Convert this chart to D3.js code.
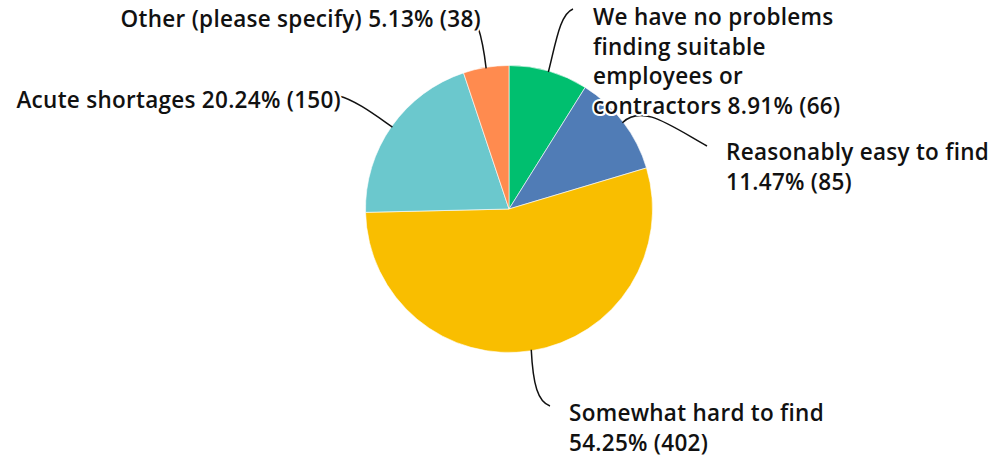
<!DOCTYPE html>
<html>
<head>
<meta charset="utf-8">
<script src="https://cdn.jsdelivr.net/npm/d3@7"></script>
<style>
  html, body { margin: 0; padding: 0; background: #ffffff; }
  svg { display: block; }
  text { font-family: "Open Sans", Lato, sans-serif; font-weight: 600; font-size: 22.5px; letter-spacing: 0.28px; fill: #111111; }
</style>
</head>
<body>
<svg id="chart" width="990" height="458"></svg>
<script>
// ---- data ----
const categories = [
  "We have no problems finding suitable employees or contractors",
  "Reasonably easy to find",
  "Somewhat hard to find",
  "Acute shortages",
  "Other (please specify)"
];
const counts = [66, 85, 402, 150, 38];
const percents = ["8.91%", "11.47%", "54.25%", "20.24%", "5.13%"];
const colors = ["#00BF6F", "#507CB6", "#F9BE00", "#6BC8CD", "#FF8B4F"];

// ---- layout ----
const W = 990, H = 458;
const cx = 509, cy = 209, R = 143.5;
const labelLayout = [
  { lines: ["We have no problems", "finding suitable", "employees or", "contractors " + percents[0] + " (" + counts[0] + ")"],
    x: 593, y: 25, lh: 29.5, anchor: "start",
    leader: [[556, 42], [560, 14], [573, 9]] },
  { lines: [categories[1], percents[1] + " (" + counts[1] + ")"],
    x: 726, y: 160, lh: 30, anchor: "start",
    leader: [[642, 104], [668, 124], [707, 146]] },
  { lines: [categories[2], percents[2] + " (" + counts[2] + ")"],
    x: 569, y: 420.5, lh: 30, anchor: "start",
    leader: [[533, 385], [538, 402], [550, 406]] },
  { lines: [categories[3] + " " + percents[3] + " (" + counts[3] + ")"],
    x: 341, y: 108, lh: 30, anchor: "end",
    leader: [[375, 115], [355, 100], [339, 96]] },
  { lines: [categories[4] + " " + percents[4] + " (" + counts[4] + ")"],
    x: 481, y: 27, lh: 30, anchor: "end",
    leader: [[484, 50], [480, 33], [478, 27]] }
];

const svg = d3.select("#chart");
const g = svg.append("g").attr("transform", `translate(${cx},${cy})`);

const pie = d3.pie().sort(null).value(d => d)(counts);
const arc = d3.arc().innerRadius(0).outerRadius(R);

g.selectAll("path.slice")
  .data(pie)
  .join("path")
  .attr("class", "slice")
  .attr("d", arc)
  .attr("fill", (d, i) => colors[i])
  .attr("stroke", "#ffffff")
  .attr("stroke-width", 0.6);

// leader lines
const leaders = svg.append("g");
pie.forEach((d, i) => {
  const mid = (d.startAngle + d.endAngle) / 2;
  const sx = cx + (R - 1) * Math.sin(mid);
  const sy = cy - (R - 1) * Math.cos(mid);
  const L = labelLayout[i].leader;
  const p = d3.path();
  p.moveTo(sx, sy);
  p.bezierCurveTo(L[0][0], L[0][1], L[1][0], L[1][1], L[2][0], L[2][1]);
  leaders.append("path")
    .attr("d", p.toString())
    .attr("fill", "none")
    .attr("stroke", "#111")
    .attr("stroke-width", 1.5);
});

// labels
const labels = svg.append("g");
labelLayout.forEach((L) => {
  const t = labels.append("text")
    .attr("text-anchor", L.anchor)
    .attr("paint-order", "stroke")
    .attr("stroke", "#ffffff")
    .attr("stroke-width", 4)
    .attr("stroke-linejoin", "round");
  L.lines.forEach((line, k) => {
    t.append("tspan").attr("x", L.x).attr("y", L.y + k * L.lh).text(line);
  });
});
</script>
</body>
</html>
